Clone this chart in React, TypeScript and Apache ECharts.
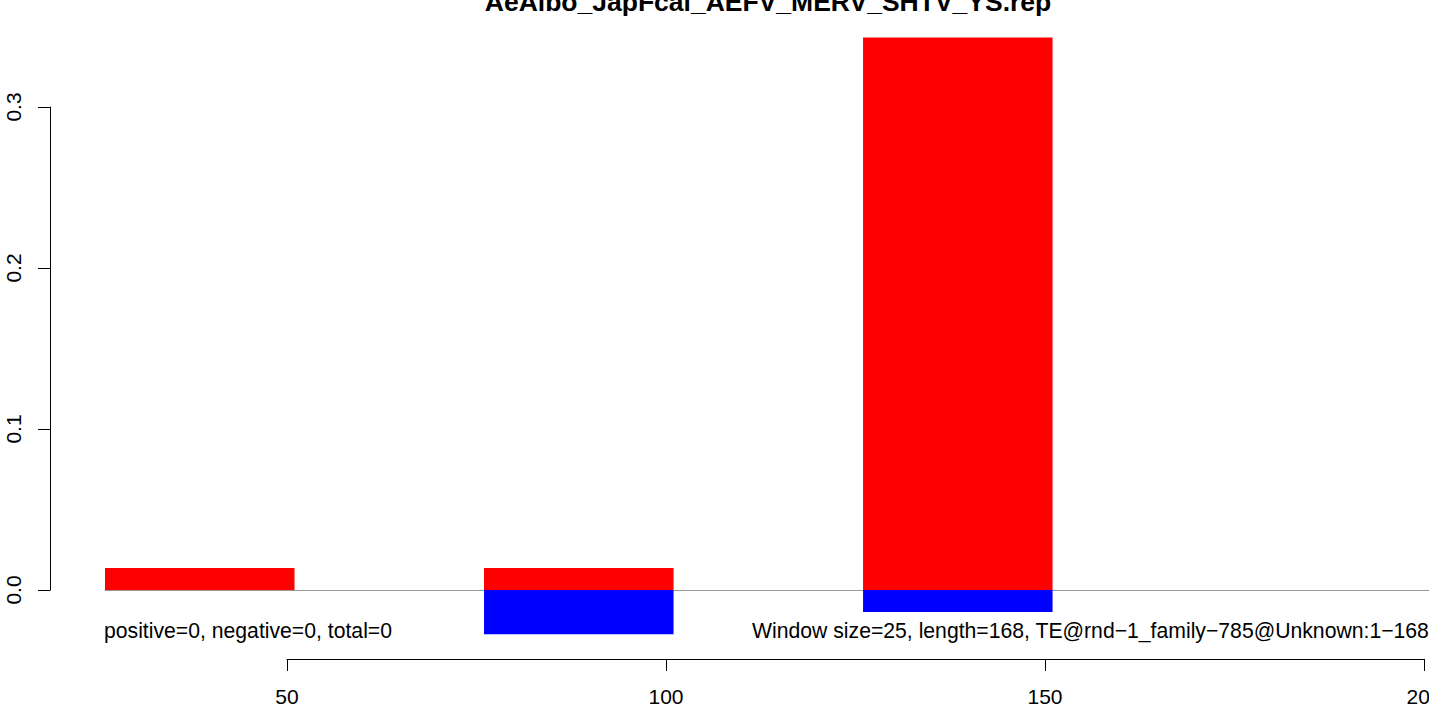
import { useEffect, useRef } from "react";
import * as echarts from "echarts";

const chartTitle = "AeAlbo_JapFcal_AEFV_MERV_SHTV_YS.rep";
const windowSize = 25;
const windowStarts = [1, 26, 51, 76, 101, 126, 151];
const positiveValues = [0, 0.0137, 0, 0.0137, 0, 0.3425, 0];
const negativeValues = [0, 0, 0, -0.0274, 0, -0.0137, 0];
const xTickValues = [50, 100, 150, 200];
const yTickValues = [0, 0.1, 0.2, 0.3];
const leftNote = "positive=0, negative=0, total=0";
const rightNote = "Window size=25, length=168, TE@rnd\u22121_family\u2212785@Unknown:1\u2212168";

const FONT = "'Liberation Sans', Arial, Helvetica, sans-serif";

function makeRender(color: string) {
  return (_params: any, api: any) => {
    const start = api.value(0);
    const end = api.value(1);
    const v = api.value(2);
    if (!v) return { type: "group", children: [] };
    const p0 = api.coord([start, v]);
    const p1 = api.coord([end, 0]);
    return {
      type: "rect",
      shape: {
        x: p0[0],
        y: Math.min(p0[1], p1[1]),
        width: p1[0] - p0[0],
        height: Math.abs(p1[1] - p0[1]),
      },
      style: { fill: color },
    };
  };
}

export default function App() {
  const ref = useRef<HTMLDivElement>(null);
  useEffect(() => {
    if (!ref.current) return;
    const chart = echarts.init(ref.current, undefined, { renderer: "svg" });
    const posData = windowStarts.map((s, i) => [s, s + windowSize, positiveValues[i]]);
    const negData = windowStarts.map((s, i) => [s, s + windowSize, negativeValues[i]]);
    chart.setOption({
      animation: false,
      backgroundColor: "#ffffff",
      grid: [
        { left: 105, right: 0, top: 10, bottom: 47, outerBoundsMode: "none", containLabel: false },
        { left: 287, width: 1137, top: 600, height: 59, outerBoundsMode: "none", containLabel: false },
        { left: 50, width: 10, top: 107, height: 483, outerBoundsMode: "none", containLabel: false },
      ],
      xAxis: [
        {
          type: "value",
          gridIndex: 0,
          min: 26,
          max: 200.66,
          axisLine: { show: true, onZero: true, lineStyle: { color: "#999999", width: 1 } },
          axisTick: { show: false },
          axisLabel: { show: false },
          splitLine: { show: false },
        },
        {
          type: "value",
          gridIndex: 1,
          min: 50,
          max: 200,
          interval: 50,
          position: "bottom",
          axisLine: { show: true, onZero: false, lineStyle: { color: "#000000", width: 1 } },
          axisTick: { show: true, length: 12, customValues: xTickValues, lineStyle: { color: "#000000" } },
          axisLabel: {
            show: true,
            margin: 27,
            customValues: xTickValues,
            color: "#000000",
            fontSize: 21,
            fontFamily: FONT,
            hideOverlap: false,
          },
          splitLine: { show: false },
        },
        { type: "value", gridIndex: 2, show: false, min: 0, max: 1 },
      ],
      yAxis: [
        {
          type: "value",
          gridIndex: 0,
          min: -0.0428,
          max: 0.3596,
          axisLine: { show: false },
          axisTick: { show: false },
          axisLabel: { show: false },
          splitLine: { show: false },
        },
        { type: "value", gridIndex: 1, show: false, min: 0, max: 1 },
        {
          type: "value",
          gridIndex: 2,
          min: 0,
          max: 0.3,
          interval: 0.1,
          position: "left",
          axisLine: { show: true, onZero: false, lineStyle: { color: "#000000", width: 1 } },
          axisTick: { show: true, length: 12, customValues: yTickValues, lineStyle: { color: "#000000" } },
          axisLabel: {
            show: true,
            rotate: 90,
            margin: 26,
            customValues: yTickValues,
            color: "#000000",
            fontSize: 21,
            fontFamily: FONT,
            formatter: (v: number) => v.toFixed(1),
          },
          splitLine: { show: false },
        },
      ],
      series: [
        {
          type: "custom",
          name: "positive",
          xAxisIndex: 0,
          yAxisIndex: 0,
          clip: true,
          renderItem: makeRender("#ff0000"),
          encode: { x: [0, 1], y: 2 },
          data: posData,
          z: 3,
        },
        {
          type: "custom",
          name: "negative",
          xAxisIndex: 0,
          yAxisIndex: 0,
          clip: true,
          renderItem: makeRender("#0000ff"),
          encode: { x: [0, 1], y: 2 },
          data: negData,
          z: 3,
        },
      ],
      graphic: [
        {
          type: "text",
          x: 768,
          y: 2,
          style: {
            text: chartTitle,
            fill: "#000000",
            font: `bold 26.5px ${FONT}`,
            align: "center",
            verticalAlign: "middle",
          },
        },
        {
          type: "text",
          x: 104,
          y: 630,
          style: {
            text: leftNote,
            fill: "#000000",
            font: `21.2px ${FONT}`,
            align: "left",
            verticalAlign: "middle",
          },
        },
        {
          type: "text",
          x: 752,
          y: 630,
          style: {
            text: rightNote,
            fill: "#000000",
            font: `21.2px ${FONT}`,
            align: "left",
            verticalAlign: "middle",
          },
        },
      ],
    });
    return () => chart.dispose();
  }, []);
  return (
    <div
      ref={ref}
      style={{ position: "absolute", left: 0, top: 0, width: 1429, height: 706 }}
    />
  );
}
